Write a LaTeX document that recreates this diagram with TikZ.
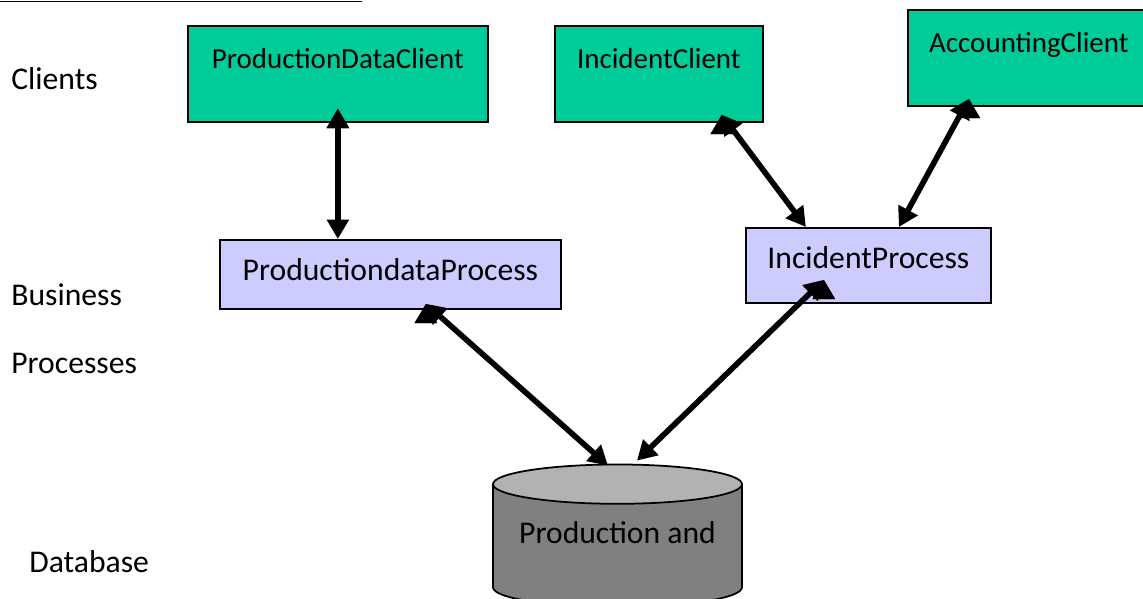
\documentclass[tikz,border=0pt]{standalone}
\usepackage{fontspec}
\setmainfont{Carlito}
\usetikzlibrary{arrows.meta,shapes.geometric}
\definecolor{clientgreen}{RGB}{0,204,153}
\definecolor{processblue}{RGB}{204,204,255}
\definecolor{dbside}{RGB}{128,128,128}
\definecolor{dbtop}{RGB}{178,178,178}

\begin{document}
\begin{tikzpicture}[
  every node/.style={inner sep=0pt},
  client/.style={draw, line width=1pt, fill=clientgreen, anchor=north west, font=\fontsize{16.5}{20}\selectfont, text height=0.86cm, text depth=1.06cm},
  process/.style={draw, line width=1pt, fill=processblue, anchor=north west, font=\fontsize{18}{22}\selectfont},
  database/.style={draw, line width=1pt, cylinder, shape border rotate=90, aspect=0.2, cylinder uses custom fill, cylinder body fill=dbside, cylinder end fill=dbtop, minimum width=4.98cm, minimum height=2.85cm, text height=0.45cm, text depth=0.55cm, font=\fontsize{18}{22}\selectfont},
  layer/.style={anchor=base west, font=\fontsize{18}{22}\selectfont},
  link/.style={draw, line width=3.2pt, {Triangle[length=11pt,width=12pt]}-{Triangle[length=11pt,width=12pt]}}
]
\useasboundingbox (0,0) rectangle (22.86,-11.98);
\draw[line width=1pt] (0,-0.03) -- (7.24,-0.03);
% Define the nodes
\node[client, minimum width=6cm] (pdc) at (3.74,-0.5) {ProductionDataClient};
\node[client, minimum width=4.16cm] (ic) at (11.08,-0.5) {IncidentClient};
\node[client, minimum width=4.84cm] (ac) at (18.14,-0.18) {AccountingClient};
\node[process, minimum width=6.82cm, text height=0.82cm, text depth=0.56cm] (pdp) at (4.38,-4.78) {ProductiondataProcess};
\node[process, minimum width=4.9cm, text height=0.82cm, text depth=0.68cm] (ip) at (14.9,-4.54) {IncidentProcess};
\node[database] (db) at (12.35,-10.92) {Production and};
\node[layer] (clients) at (0.22,-1.78) {Clients};
\node[layer] (business) at (0.22,-6.1) {Business};
\node[layer] (processes) at (0.22,-7.46) {Processes};
\node[layer] (database) at (0.58,-11.44) {Database};
% Define the edges
\path[link] ([yshift=0.28cm]pdc.south) edge (pdc.south |- pdp.north);
\path[link] ([xshift=-0.84cm,yshift=0.16cm]ic.south east) edge ([xshift=-1.25cm]ip.north);
\path[link] ([xshift=-1.2cm,yshift=0.16cm]ac.south) edge ([xshift=0.61cm]ip.north);
\path[link] ([xshift=0.71cm,yshift=0.12cm]pdp.south) edge ([xshift=-0.19cm,yshift=-0.04cm]db.north);
\path[link] ([xshift=-0.89cm,yshift=0.48cm]ip.south) edge ([xshift=0.39cm,yshift=0.06cm]db.north);
\end{tikzpicture}
\end{document}
